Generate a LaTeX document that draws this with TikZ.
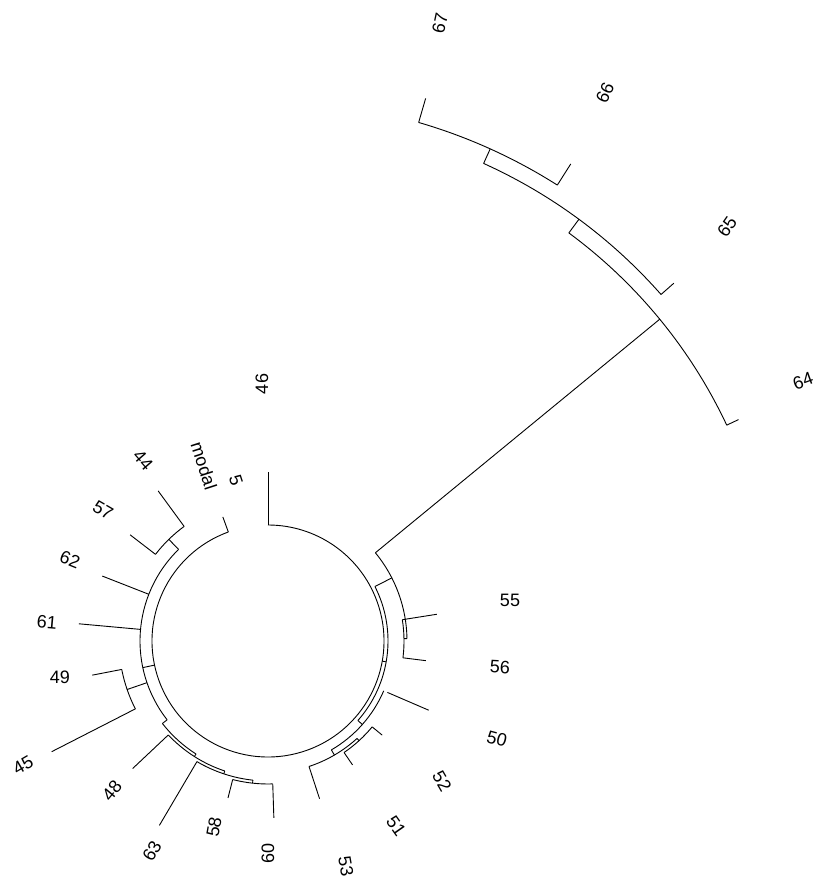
\documentclass[tikz,border=0pt]{standalone}
\usepackage{fontspec}
\setmainfont{Liberation Sans}
\usetikzlibrary{calc}
\tikzset{
  branch/.style={draw=black, line width=0.9pt},
  leaf/.style={font=\fontsize{18}{18}\selectfont, inner sep=0pt},
}
% arc of a node: radius, start angle, end angle
\newcommand{\fanarc}[3]{\draw[branch] ($(C)+(#2:#1)$) arc[start angle=#2, end angle=#3, radius=#1pt];}
% radial branch: angle, inner radius, outer radius
\newcommand{\fanray}[3]{\draw[branch] ($(C)+(#1:#2)$) -- ($(C)+(#1:#3)$);}

\begin{document}
\begin{tikzpicture}[x=1pt, y=1pt]
  \useasboundingbox (0,0) rectangle (818,884);
  \coordinate (C) at (268,243);

  % root circle
  \fanarc{116}{110}{450}

  % tips
  \foreach \ang/\rb/\rt in {110/116/132, 126.2/142/186, 142.4/142/174,
      158.6/128/178, 174.8/128/190, 191/149/179, 207.1/149/243,
      223.3/137/186, 239.5/140/214, 255.7/143/162, 271.9/143/177,
      288.1/132/166, 304.3/135/150, 320.5/135/148, 336.7/130/175,
      352.9/136/159, 369/136/171, 385.2/507/520, 401.4/524/541,
      417.6/540/565, 433.8/540/565, 450/116/169}
    {\fanray{\ang}{\rb}{\rt}}

  % left group
  \fanarc{142}{126.2}{142.4}
  \fanray{134.3}{128}{142}
  \fanarc{128}{134.3}{218}
  \fanray{192}{116}{128}
  \fanray{199}{128}{149}
  \fanarc{149}{191}{207.1}
  \fanray{218}{128}{134}
  \fanarc{134}{218}{237.5}
  \fanray{237.5}{134}{137}
  \fanarc{137}{223.3}{251.6}
  \fanray{251.6}{137}{140}
  \fanarc{140}{239.5}{263.8}
  \fanray{263.8}{140}{143}
  \fanarc{143}{255.7}{271.9}

  % right group
  \fanarc{135}{304.3}{320.5}
  \fanray{312.4}{132}{135}
  \fanarc{132}{288.1}{312.4}
  \fanray{300.2}{126}{132}
  \fanarc{126}{300.2}{336.7}
  \fanray{318.5}{120}{126}
  \fanarc{120}{318.5}{387}
  \fanray{350}{116}{120}
  \fanarc{136}{352.9}{369}
  \fanray{361}{136}{139}
  \fanarc{139}{361}{399.4}
  \fanray{387}{120}{139}

  % upper group
  \fanray{399.4}{139}{507}
  \fanarc{507}{385.2}{413.6}
  \fanray{413.6}{507}{524}
  \fanarc{524}{401.4}{425.7}
  \fanray{425.7}{524}{540}
  \fanarc{540}{417.6}{433.8}

  % labels
  \foreach \lab/\x/\y/\rot in {46/262/500/90, modal/204/418/-72, 5/236/404/-72,
      44/143/424/-49, 57/103/374/-30, 62/70/324/-22, 61/47/262/-5,
      49/60/207/0, 45/23/119/30, 48/112/93/50, 63/152/33/60,
      58/214/57/80, 60/268/31/90, 53/346/18/-80, 51/396/58/-55,
      52/442/103/-60, 50/497/145/-15, 56/500/217/-3, 55/510/284/0,
      64/803/503/20, 65/727/657/55, 66/605/791/65, 67/440/861/78}
    \node[leaf, rotate=\rot] (l\lab) at (\x,\y) {\lab};
\end{tikzpicture}
\end{document}
